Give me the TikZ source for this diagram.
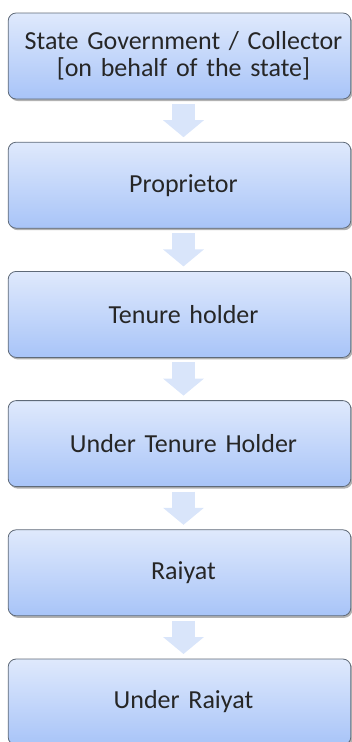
\documentclass[tikz,border=0pt]{standalone}
\usepackage{fontspec}
\setmainfont{Carlito}
\usepackage{xcolor}
\usepackage{tikz}
\usetikzlibrary{positioning, arrows.meta, shadows}
\definecolor{boxtop}{HTML}{DFE9FC}
\definecolor{boxbot}{HTML}{A8C4F8}
\definecolor{boxline}{HTML}{5F6A78}
\definecolor{arrowfill}{HTML}{D9E5FA}
\definecolor{textcol}{HTML}{262626}
\tikzstyle{level} = [rectangle, rounded corners=8pt, minimum width=341pt, minimum height=86pt, text width=336pt, text centered, align=center, draw=boxline, line width=0.8pt, top color=boxtop, bottom color=boxbot, outer sep=0pt, font=\fontsize{26}{27}\selectfont, text=textcol, execute at begin node={\advance\leftskip by 8pt}, drop shadow={shadow xshift=1.5pt, shadow yshift=-2pt, opacity=0.3, fill=black}]
\tikzstyle{down} = [draw=arrowfill, line width=23pt, -{Triangle[width=40pt, length=17pt]}]

\begin{document}
\begin{tikzpicture}[node distance=43.2pt]
            \useasboundingbox (0,0) rectangle (351pt,-742pt);
            \node[level] (state) at (179.5pt,-56pt) {State Government / Collector\\{}[on behalf of the state]};
            \node[level, below=of state] (proprietor) {Proprietor};
            \node[level, below=of proprietor] (tenure) {Tenure holder};
            \node[level, below=of tenure] (undertenure) {Under Tenure Holder};
            \node[level, below=of undertenure] (raiyat) {Raiyat};
            \node[level, below=of raiyat] (underraiyat) {Under Raiyat};
            
            \draw[down] ([xshift=4pt, yshift=-5pt]state.south) -- ([xshift=4pt, yshift=5pt]proprietor.north);
            \draw[down] ([xshift=4pt, yshift=-5pt]proprietor.south) -- ([xshift=4pt, yshift=5pt]tenure.north);
            \draw[down] ([xshift=4pt, yshift=-5pt]tenure.south) -- ([xshift=4pt, yshift=5pt]undertenure.north);
            \draw[down] ([xshift=4pt, yshift=-5pt]undertenure.south) -- ([xshift=4pt, yshift=5pt]raiyat.north);
            \draw[down] ([xshift=4pt, yshift=-5pt]raiyat.south) -- ([xshift=4pt, yshift=5pt]underraiyat.north);
        \end{tikzpicture}
\end{document}
